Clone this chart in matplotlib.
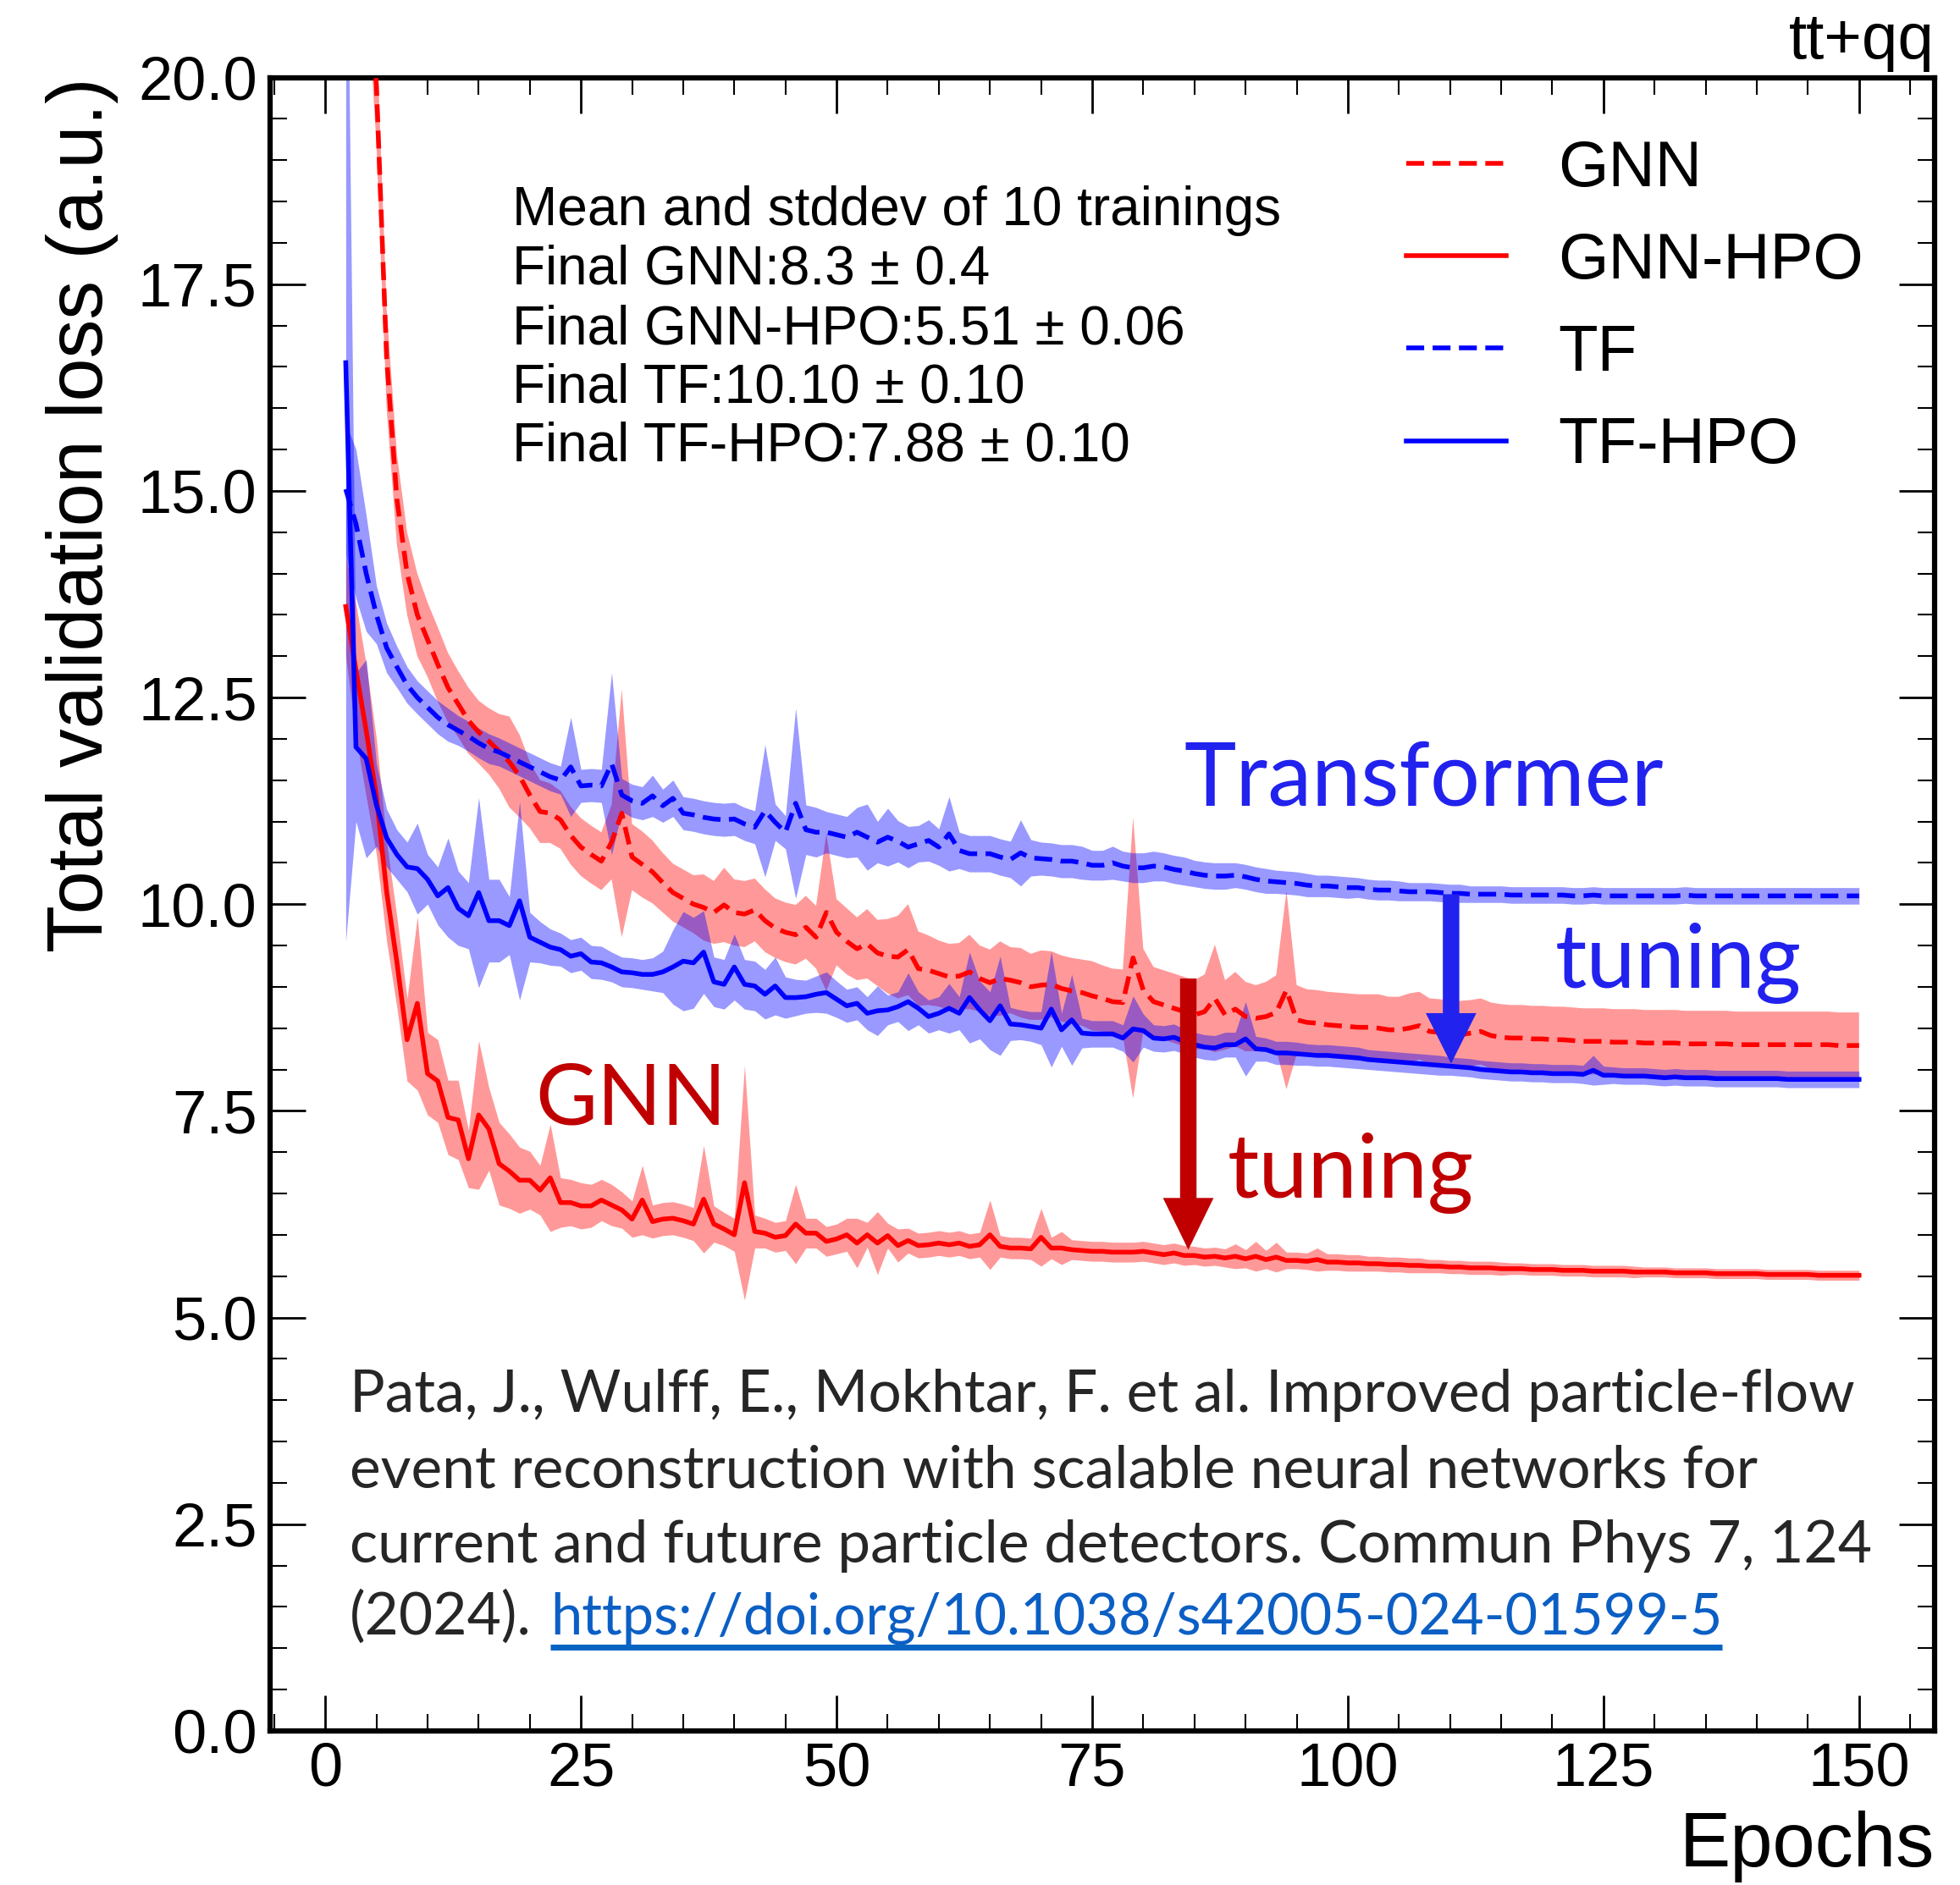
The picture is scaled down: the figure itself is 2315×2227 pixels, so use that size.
import numpy as np
import matplotlib
matplotlib.use("Agg")
import matplotlib.pyplot as plt
from matplotlib.lines import Line2D
from matplotlib.ticker import MultipleLocator, FormatStrFormatter

# epochs 2..150
epochs = list(range(2, 151))

# GNN (dashed red), mean and stddev of 10 trainings
gnn_mean = [
    32.0, 26.0, 22.0, 19.9, 16.6, 14.9, 14.0, 13.5, 13.2, 12.9,
    12.62, 12.42, 12.22, 12.08, 11.97, 11.85, 11.72, 11.55, 11.32, 11.12,
    11.1, 11.02, 10.83, 10.69, 10.6, 10.52, 10.75, 11.1, 10.57, 10.48,
    10.39, 10.26, 10.14, 10.07, 10.0, 9.96, 9.9, 9.99, 9.9, 9.88,
    9.93, 9.8, 9.71, 9.66, 9.63, 9.72, 9.6, 9.9, 9.66, 9.55,
    9.46, 9.52, 9.41, 9.37, 9.36, 9.45, 9.22, 9.2, 9.16, 9.12,
    9.13, 9.18, 9.1, 9.05, 9.1, 9.08, 9.05, 9.0, 9.02, 9.03,
    8.98, 8.95, 8.93, 8.89, 8.86, 8.82, 8.81, 9.35, 8.96, 8.82,
    8.78, 8.74, 8.7, 8.66, 8.7, 8.86, 8.66, 8.73, 8.64, 8.62,
    8.64, 8.69, 8.96, 8.6, 8.57, 8.56, 8.54, 8.53, 8.52, 8.51,
    8.51, 8.5, 8.48, 8.48, 8.5, 8.53, 8.46, 8.45, 8.43, 8.42,
    8.44, 8.46, 8.41, 8.39, 8.38, 8.38, 8.37, 8.37, 8.36, 8.36,
    8.35, 8.34, 8.34, 8.34, 8.33, 8.33, 8.33, 8.32, 8.32, 8.32,
    8.32, 8.31, 8.31, 8.31, 8.31, 8.31, 8.3, 8.3, 8.3, 8.3,
    8.3, 8.3, 8.3, 8.3, 8.3, 8.3, 8.29, 8.29, 8.29,
]
gnn_std = [
    1.0, 0.9, 0.8, 0.7, 0.6, 0.55, 0.5, 0.5, 0.45, 0.45,
    0.42, 0.4, 0.4, 0.38, 0.4, 0.45, 0.55, 0.5, 0.4, 0.38,
    0.36, 0.35, 0.35, 0.35, 0.35, 0.35, 0.45, 1.5, 0.4, 0.4,
    0.38, 0.36, 0.35, 0.35, 0.35, 0.4, 0.38, 0.45, 0.4, 0.4,
    0.38, 0.38, 0.36, 0.36, 0.36, 0.38, 0.38, 0.95, 0.4, 0.4,
    0.38, 0.42, 0.4, 0.45, 0.5, 0.55, 0.45, 0.42, 0.4, 0.4,
    0.4, 0.45, 0.4, 0.4, 0.45, 0.4, 0.42, 0.4, 0.42, 0.4,
    0.4, 0.4, 0.4, 0.42, 0.4, 0.4, 0.4, 1.7, 0.5, 0.42,
    0.42, 0.42, 0.42, 0.42, 0.45, 0.65, 0.42, 0.45, 0.42, 0.4,
    0.42, 0.45, 1.2, 0.42, 0.4, 0.4, 0.4, 0.4, 0.4, 0.4,
    0.4, 0.41, 0.4, 0.4, 0.42, 0.41, 0.4, 0.4, 0.4, 0.41,
    0.4, 0.4, 0.4, 0.4, 0.4, 0.4, 0.4, 0.4, 0.4, 0.4,
    0.4, 0.4, 0.4, 0.4, 0.4, 0.4, 0.4, 0.4, 0.4, 0.4,
    0.4, 0.4, 0.4, 0.4, 0.4, 0.4, 0.4, 0.4, 0.4, 0.4,
    0.4, 0.4, 0.4, 0.4, 0.4, 0.4, 0.4, 0.4, 0.4,
]

# GNN-HPO (solid red)
gnn_hpo_mean = [
    13.6, 12.83, 12.1, 11.3, 10.15, 9.3, 8.36, 8.8, 7.95, 7.86,
    7.42, 7.39, 6.92, 7.45, 7.28, 6.86, 6.77, 6.66, 6.66, 6.54,
    6.69, 6.39, 6.39, 6.35, 6.35, 6.42, 6.36, 6.3, 6.19, 6.42,
    6.16, 6.19, 6.2, 6.17, 6.13, 6.43, 6.13, 6.07, 6.0, 6.63,
    6.04, 6.02, 5.97, 5.99, 6.13, 6.02, 6.02, 5.92, 5.95, 6.0,
    5.9, 6.0, 5.9, 5.99, 5.87, 5.93, 5.87, 5.88, 5.9, 5.88,
    5.9, 5.86, 5.88, 6.0, 5.86, 5.84, 5.84, 5.83, 5.97, 5.84,
    5.84, 5.82, 5.81, 5.8, 5.8, 5.79, 5.79, 5.79, 5.8, 5.78,
    5.76, 5.78, 5.75, 5.75, 5.73, 5.74, 5.72, 5.74, 5.71, 5.74,
    5.7, 5.73, 5.69, 5.69, 5.68, 5.7, 5.67, 5.67, 5.66, 5.66,
    5.65, 5.65, 5.64, 5.64, 5.63, 5.63, 5.62, 5.62, 5.61, 5.61,
    5.6, 5.6, 5.6, 5.59, 5.59, 5.59, 5.58, 5.58, 5.58, 5.57,
    5.57, 5.57, 5.56, 5.56, 5.56, 5.56, 5.55, 5.55, 5.55, 5.55,
    5.54, 5.54, 5.54, 5.54, 5.53, 5.53, 5.53, 5.53, 5.53, 5.52,
    5.52, 5.52, 5.52, 5.52, 5.51, 5.51, 5.51, 5.51, 5.51,
]
gnn_hpo_std = [
    0.6, 0.8, 0.8, 0.7, 0.6, 0.55, 0.5, 1.05, 0.5, 0.5,
    0.45, 0.48, 0.35, 0.9, 0.5, 0.5, 0.45, 0.4, 0.35, 0.3,
    0.65, 0.3, 0.28, 0.28, 0.26, 0.25, 0.25, 0.22, 0.22, 0.42,
    0.2, 0.2, 0.2, 0.2, 0.2, 0.65, 0.22, 0.2, 0.2, 1.42,
    0.2, 0.18, 0.18, 0.18, 0.48, 0.18, 0.18, 0.18, 0.18, 0.2,
    0.3, 0.15, 0.38, 0.15, 0.2, 0.15, 0.15, 0.15, 0.15, 0.15,
    0.15, 0.15, 0.15, 0.42, 0.13, 0.13, 0.13, 0.13, 0.35, 0.13,
    0.2, 0.12, 0.12, 0.12, 0.12, 0.12, 0.12, 0.12, 0.12, 0.12,
    0.12, 0.12, 0.12, 0.11, 0.11, 0.11, 0.11, 0.15, 0.11, 0.18,
    0.11, 0.18, 0.1, 0.1, 0.1, 0.14, 0.1, 0.1, 0.1, 0.1,
    0.09, 0.09, 0.09, 0.09, 0.09, 0.09, 0.08, 0.08, 0.08, 0.08,
    0.08, 0.08, 0.08, 0.08, 0.07, 0.07, 0.07, 0.07, 0.07, 0.07,
    0.07, 0.07, 0.07, 0.07, 0.07, 0.07, 0.07, 0.06, 0.06, 0.06,
    0.06, 0.06, 0.06, 0.06, 0.06, 0.06, 0.06, 0.06, 0.06, 0.06,
    0.06, 0.06, 0.06, 0.06, 0.06, 0.06, 0.06, 0.06, 0.06,
]

# TF (dashed blue)
tf_mean = [
    15.02, 14.6, 14.0, 13.5, 13.1, 12.87, 12.65, 12.5, 12.38, 12.26,
    12.17, 12.1, 12.03, 11.95, 11.88, 11.84, 11.78, 11.72, 11.66, 11.6,
    11.54, 11.5, 11.66, 11.43, 11.44, 11.43, 11.7, 11.32, 11.25, 11.22,
    11.31, 11.19, 11.28, 11.1, 11.08, 11.05, 11.03, 11.02, 11.03, 10.97,
    10.93, 11.13, 10.99, 10.87, 11.22, 10.9, 10.87, 10.87, 10.84, 10.81,
    10.87, 10.81, 10.75, 10.81, 10.76, 10.69, 10.73, 10.77, 10.69, 10.85,
    10.65, 10.61, 10.61, 10.61, 10.57, 10.54, 10.62, 10.56, 10.55, 10.54,
    10.52, 10.52, 10.5, 10.47, 10.47, 10.5, 10.46, 10.44, 10.44, 10.46,
    10.45, 10.42, 10.4, 10.37, 10.35, 10.34, 10.34, 10.35, 10.33, 10.3,
    10.28, 10.27, 10.26, 10.25, 10.23, 10.22, 10.22, 10.21, 10.2, 10.2,
    10.18, 10.17, 10.17, 10.16, 10.15, 10.15, 10.15, 10.14, 10.13, 10.13,
    10.12, 10.12, 10.12, 10.12, 10.11, 10.11, 10.11, 10.11, 10.11, 10.11,
    10.1, 10.1, 10.11, 10.1, 10.1, 10.1, 10.1, 10.1, 10.1, 10.1,
    10.1, 10.11, 10.1, 10.1, 10.1, 10.1, 10.1, 10.1, 10.1, 10.1,
    10.1, 10.1, 10.1, 10.1, 10.1, 10.1, 10.1, 10.1, 10.1,
]
tf_std = [
    0.8, 0.9, 0.7, 0.35, 0.3, 0.25, 0.22, 0.2, 0.2, 0.2,
    0.2, 0.18, 0.18, 0.18, 0.18, 0.17, 0.17, 0.17, 0.17, 0.17,
    0.17, 0.17, 0.6, 0.2, 0.2, 0.2, 1.1, 0.2, 0.2, 0.2,
    0.25, 0.2, 0.22, 0.2, 0.2, 0.2, 0.2, 0.2, 0.2, 0.2,
    0.2, 0.8, 0.22, 0.2, 1.15, 0.3, 0.3, 0.25, 0.25, 0.25,
    0.3, 0.4, 0.25, 0.35, 0.25, 0.25, 0.22, 0.25, 0.22, 0.45,
    0.22, 0.22, 0.22, 0.22, 0.22, 0.22, 0.4, 0.22, 0.2, 0.2,
    0.2, 0.2, 0.2, 0.18, 0.18, 0.2, 0.18, 0.18, 0.18, 0.18,
    0.17, 0.17, 0.17, 0.16, 0.16, 0.16, 0.16, 0.15, 0.15, 0.15,
    0.15, 0.14, 0.14, 0.14, 0.14, 0.13, 0.13, 0.13, 0.13, 0.12,
    0.12, 0.12, 0.12, 0.12, 0.11, 0.11, 0.11, 0.11, 0.11, 0.11,
    0.1, 0.1, 0.1, 0.1, 0.1, 0.1, 0.1, 0.1, 0.1, 0.1,
    0.1, 0.1, 0.1, 0.1, 0.1, 0.1, 0.1, 0.1, 0.1, 0.1,
    0.1, 0.1, 0.1, 0.1, 0.1, 0.1, 0.1, 0.1, 0.1, 0.1,
    0.1, 0.1, 0.1, 0.1, 0.1, 0.1, 0.1, 0.1, 0.1,
]

# TF-HPO (solid blue)
tf_hpo_mean = [
    16.55, 11.9, 11.76, 11.2, 10.8, 10.6, 10.45, 10.43, 10.3, 10.1,
    10.2, 9.95, 9.86, 10.14, 9.8, 9.8, 9.74, 10.04, 9.6, 9.54,
    9.48, 9.45, 9.37, 9.4, 9.3, 9.29, 9.24, 9.18, 9.17, 9.15,
    9.15, 9.18, 9.24, 9.31, 9.29, 9.42, 9.06, 9.03, 9.24, 9.03,
    9.01, 8.91, 9.01, 8.87, 8.87, 8.88, 8.91, 8.93, 8.85, 8.77,
    8.8, 8.68, 8.71, 8.72, 8.76, 8.82, 8.74, 8.64, 8.68, 8.74,
    8.68, 8.87, 8.72, 8.59, 8.77, 8.55, 8.54, 8.52, 8.5, 8.73,
    8.48, 8.6, 8.44, 8.43, 8.43, 8.43, 8.38, 8.49, 8.47, 8.38,
    8.37, 8.39, 8.34, 8.3, 8.27, 8.26, 8.3, 8.3, 8.37, 8.25,
    8.24, 8.2, 8.2, 8.19, 8.18, 8.17, 8.17, 8.16, 8.15, 8.14,
    8.12, 8.11, 8.1, 8.09, 8.08, 8.07, 8.06, 8.05, 8.04, 8.03,
    8.02, 8.0, 7.99, 7.98, 7.97, 7.97, 7.96, 7.96, 7.95, 7.95,
    7.95, 7.94, 7.99, 7.93, 7.93, 7.92, 7.92, 7.92, 7.91, 7.9,
    7.91, 7.9, 7.9, 7.9, 7.89, 7.89, 7.89, 7.89, 7.89, 7.89,
    7.89, 7.88, 7.88, 7.88, 7.88, 7.88, 7.88, 7.88, 7.88,
]
tf_hpo_std = [
    7.0, 0.9, 1.2, 0.5, 0.35, 0.3, 0.3, 0.55, 0.3, 0.35,
    0.6, 0.45, 0.4, 1.15, 0.5, 0.5, 0.35, 1.2, 0.3, 0.25,
    0.22, 0.2, 0.2, 0.2, 0.2, 0.2, 0.18, 0.18, 0.18, 0.18,
    0.2, 0.25, 0.45, 0.6, 0.55, 0.5, 0.3, 0.3, 0.4, 0.3,
    0.3, 0.3, 0.35, 0.25, 0.22, 0.2, 0.22, 0.25, 0.22, 0.2,
    0.2, 0.2, 0.3, 0.18, 0.18, 0.35, 0.2, 0.2, 0.2, 0.3,
    0.2, 0.55, 0.35, 0.35, 0.6, 0.2, 0.18, 0.18, 0.2, 0.7,
    0.2, 0.55, 0.18, 0.16, 0.16, 0.16, 0.16, 0.4, 0.2, 0.16,
    0.16, 0.16, 0.15, 0.15, 0.15, 0.15, 0.15, 0.15, 0.45, 0.15,
    0.14, 0.14, 0.14, 0.14, 0.13, 0.13, 0.13, 0.13, 0.13, 0.13,
    0.12, 0.12, 0.12, 0.12, 0.12, 0.12, 0.12, 0.12, 0.11, 0.11,
    0.11, 0.11, 0.11, 0.11, 0.11, 0.11, 0.11, 0.11, 0.11, 0.11,
    0.11, 0.11, 0.18, 0.11, 0.1, 0.1, 0.1, 0.1, 0.1, 0.1,
    0.1, 0.1, 0.1, 0.1, 0.1, 0.1, 0.1, 0.1, 0.1, 0.1,
    0.1, 0.1, 0.1, 0.1, 0.1, 0.1, 0.1, 0.1, 0.1,
]

series_labels = ["GNN", "GNN-HPO", "TF", "TF-HPO"]
stats_lines = [
    "Mean and stddev of 10 trainings",
    "Final GNN:8.3 \u00b1 0.4",
    "Final GNN-HPO:5.51 \u00b1 0.06",
    "Final TF:10.10 \u00b1 0.10",
    "Final TF-HPO:7.88 \u00b1 0.10",
]
citation_lines = [
    "Pata, J., Wulff, E., Mokhtar, F. et al. Improved particle-flow",
    "event reconstruction with scalable neural networks for",
    "current and future particle detectors. Commun Phys 7, 124",
    "(2024).",
]
doi_link = "https://doi.org/10.1038/s42005-024-01599-5"

RED = "#ff0000"
BLUE = "#0000ff"
DARKRED = "#c00000"
ANNBLUE = "#2222ee"
DASH = (0, (3.8, 1.8))
LW = 4.0

plt.rcParams['font.family'] = ['Liberation Sans', 'DejaVu Sans']

fig = plt.figure(figsize=(23.15, 22.27), dpi=100)
ax = fig.add_axes([0.1378, 0.0818, 0.8493, 0.8771])

x = np.array(epochs)
styles = [
    (gnn_mean, gnn_std, RED, DASH),
    (gnn_hpo_mean, gnn_hpo_std, RED, "-"),
    (tf_mean, tf_std, BLUE, DASH),
    (tf_hpo_mean, tf_hpo_std, BLUE, "-"),
]

# bands first, then the lines on top
for mean, std, color, ls in styles:
    m = np.array(mean)
    s = np.array(std)
    ax.fill_between(x, m - s, m + s, color=color, alpha=0.4, lw=0, zorder=1)
handles = []
for (mean, std, color, ls), label in zip(styles, series_labels):
    ax.plot(x, mean, color=color, ls=ls, lw=LW, zorder=3)
    handles.append(Line2D([], [], color=color, ls=ls, lw=LW))

ax.set_xlim(-5.4, 157.4)
ax.set_ylim(0, 20)
ax.xaxis.set_major_locator(MultipleLocator(25))
ax.xaxis.set_minor_locator(MultipleLocator(5))
ax.yaxis.set_major_locator(MultipleLocator(2.5))
ax.yaxis.set_minor_locator(MultipleLocator(0.5))
ax.yaxis.set_major_formatter(FormatStrFormatter('%.1f'))
ax.tick_params(which='both', direction='in', top=True, right=True)
ax.tick_params(which='major', length=30, width=2, labelsize=52)
ax.tick_params(which='minor', length=14.5, width=1.5)
ax.tick_params(axis='x', which='major', pad=9)
ax.tick_params(axis='y', which='major', pad=11)
for sp in ax.spines.values():
    sp.set_linewidth(4.5)

ax.set_xlabel("Epochs", fontsize=65, loc='right')
ax.xaxis.set_label_coords(1.0, -0.048)
ax.set_ylabel("Total validation loss (a.u.)", fontsize=66, loc='top')
ax.yaxis.set_label_coords(-0.091, 1.0)

ax.legend(handles, series_labels, loc='upper left', bbox_to_anchor=(0.6826, 0.9625),
          fontsize=55, frameon=False, handlelength=1.55, handletextpad=0.8,
          labelspacing=0.5, borderpad=0, borderaxespad=0)

ax.text(1.0, 1.0115, "tt+qq", transform=ax.transAxes, ha='right', va='baseline', fontsize=55)

stats_y = [0.9108, 0.8752, 0.8390, 0.8034, 0.7679]
for line, yy in zip(stats_lines, stats_y):
    ax.text(0.1455, yy, line, transform=ax.transAxes, fontsize=46, va='baseline')

# slide annotations
ax.text(84.0, 11.19, "Transformer", fontsize=75, family='Lato', color=ANNBLUE, va='baseline')
ax.text(120.3, 8.99, "tuning", fontsize=75, family='Lato', color=ANNBLUE, va='baseline')
ax.text(20.5, 7.33, "GNN", fontsize=72, family='Lato', color=DARKRED, va='baseline')
ax.text(88.2, 6.45, "tuning", fontsize=75, family='Lato', color=DARKRED, va='baseline')

ax.annotate('', xy=(110.1, 8.07), xytext=(110.1, 10.12),
            arrowprops=dict(arrowstyle='simple,head_length=43,head_width=43,tail_width=14',
                            mutation_scale=1, color=ANNBLUE, shrinkA=0, shrinkB=0, lw=0))
ax.annotate('', xy=(84.4, 5.82), xytext=(84.4, 9.1),
            arrowprops=dict(arrowstyle='simple,head_length=44,head_width=43,tail_width=14',
                            mutation_scale=1, color=DARKRED, shrinkA=0, shrinkB=0, lw=0))

# citation
cite_y = [0.193, 0.147, 0.1019, 0.0584]
for line, yy in zip(citation_lines, cite_y):
    ax.text(0.0478, yy, line, transform=ax.transAxes, fontsize=50, family='Lato',
            color='#262626', va='baseline')
link = ax.text(0.1684, cite_y[-1], doi_link, transform=ax.transAxes, fontsize=48,
               family='Lato', color='#0b5fc4', va='baseline')

fig.canvas.draw()
bb = link.get_window_extent()
inv = ax.transAxes.inverted()
(lx0, _), (lx1, _) = inv.transform([[bb.x0, bb.y0], [bb.x1, bb.y0]])
ax.plot([lx0, lx1], [0.0507, 0.0507], transform=ax.transAxes, color='#0563c1',
        lw=5, clip_on=False, solid_capstyle='butt')

fig.savefig("out.png", dpi=100)
